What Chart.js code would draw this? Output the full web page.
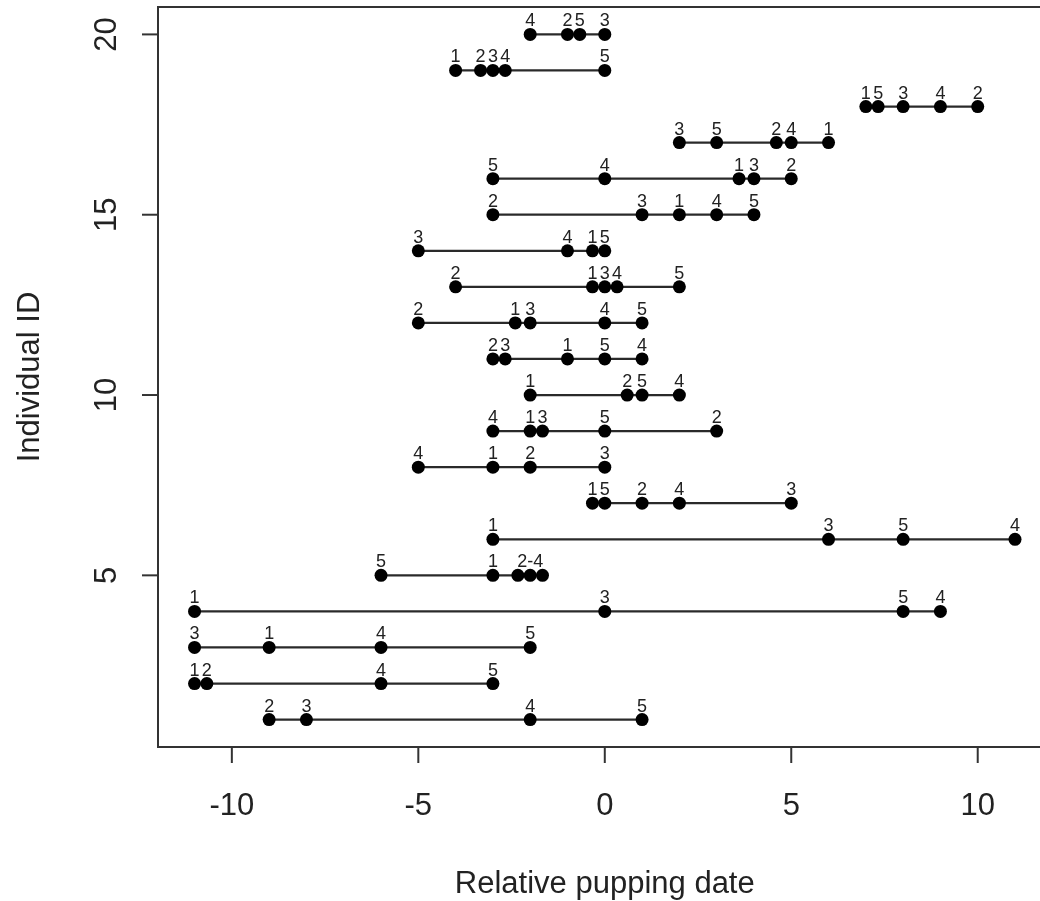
<!DOCTYPE html>
<html>
<head>
<meta charset="utf-8">
<script src="https://cdn.jsdelivr.net/npm/chart.js@4"></script>
<style>
  html, body { margin: 0; padding: 0; background: #fff; overflow: hidden; }
  canvas { display: block; }
</style>
</head>
<body>
<canvas id="pupChart" width="1040" height="901"></canvas>
<script>
/**************** Pupping dates per individual ****************/
// one row per individual, columns are pupa 1..5 (null = no record)
const individualIds = [1, 2, 3, 4, 5, 6, 7, 8, 9, 10, 11, 12, 13, 14, 15, 16, 17, 18, 19, 20];
const pupDates = [
  [null, -9, -8, -2, 1],
  [-11, -10.67, null, -6, -3],
  [-9, null, -11, -6, -2],
  [-11, null, 0, 9, 8],
  [-3, -2.33, -2, -1.67, -6],
  [-3, null, 6, 11, 8],
  [-0.33, 1, 5, 2, 0],
  [-3, -2, 0, -5, null],
  [-2, 3, -1.67, -3, 0],
  [-2, 0.6, null, 2, 1],
  [-1, -3, -2.67, 1, 0],
  [-2.4, -5, -2, 0, 1],
  [-0.33, -4, 0, 0.33, 2],
  [-0.33, null, -5, -1, 0],
  [2, -3, 1, 3, 4],
  [3.6, 5, 4, 0, -3],
  [6, 4.6, 2, 5, 3],
  [7, 10, 8, 9, 7.33],
  [-4, -3.33, -3, -2.67, 0],
  [null, -1, 0, -2, -0.67],
];
const pupOrder = ["1", "2", "3", "4", "5"];
// individual 5: pupae 2-4 share one label
const labelOverrides = { 5: ["1", "", "2-4", "", "5"] };

const xTicks = [-10, -5, 0, 5, 10];
const yTicks = [5, 10, 15, 20];

const xTitle = "Relative pupping date";
const yTitle = "Individual ID";

const inkColor = "#222";
const axisFont = "31px 'Liberation Sans', Arial, sans-serif";

const datasets = individualIds.map((id, i) => {
  const names = labelOverrides[id] || pupOrder;
  const pts = [];
  pupDates[i].forEach((d, k) => {
    if (d !== null) pts.push({ x: d, y: id, tag: names[k] });
  });
  pts.sort((a, b) => a.x - b.x);
  return {
    label: "ID " + id,
    data: pts,
    showLine: true,
    borderColor: "#2a2a2a",
    borderWidth: 2.2,
    pointRadius: 6.5,
    pointBackgroundColor: "#000",
    pointBorderWidth: 0,
    pointHoverRadius: 6.5,
  };
});

// order numbers above each point
const pointTags = {
  id: "pointTags",
  afterDatasetsDraw(chart) {
    const { ctx } = chart;
    ctx.save();
    ctx.font = "18px 'Liberation Sans', Arial, sans-serif";
    ctx.fillStyle = inkColor;
    ctx.textAlign = "center";
    ctx.textBaseline = "alphabetic";
    chart.data.datasets.forEach((ds, i) => {
      chart.getDatasetMeta(i).data.forEach((el, j) => {
        const tag = ds.data[j].tag;
        if (tag) ctx.fillText(tag, el.x, el.y - 8);
      });
    });
    ctx.restore();
  },
};

// box, ticks and titles drawn base-graphics style
const baseAxes = {
  id: "baseAxes",
  afterDraw(chart) {
    const { ctx, chartArea: a, scales } = chart;
    const w = chart.width;
    ctx.save();
    ctx.strokeStyle = "#333";
    ctx.lineWidth = 2;
    ctx.beginPath();
    ctx.moveTo(w, a.top);
    ctx.lineTo(a.left, a.top);
    ctx.lineTo(a.left, a.bottom);
    ctx.lineTo(w, a.bottom);
    ctx.stroke();

    ctx.fillStyle = inkColor;
    ctx.font = axisFont;

    // x axis
    ctx.textAlign = "center";
    ctx.textBaseline = "alphabetic";
    xTicks.forEach((v) => {
      const px = scales.x.getPixelForValue(v);
      ctx.beginPath();
      ctx.moveTo(px, a.bottom);
      ctx.lineTo(px, a.bottom + 16);
      ctx.stroke();
      ctx.fillText(String(v), px, 815);
    });
    ctx.fillText(xTitle, scales.x.getPixelForValue(0), 893);

    // y axis
    yTicks.forEach((v) => {
      const py = scales.y.getPixelForValue(v);
      ctx.beginPath();
      ctx.moveTo(a.left, py);
      ctx.lineTo(a.left - 16, py);
      ctx.stroke();
      ctx.save();
      ctx.translate(116, py);
      ctx.rotate(-Math.PI / 2);
      ctx.fillText(String(v), 0, 0);
      ctx.restore();
    });
    ctx.save();
    ctx.translate(39, (a.top + a.bottom) / 2);
    ctx.rotate(-Math.PI / 2);
    ctx.fillText(yTitle, 0, 0);
    ctx.restore();
    ctx.restore();
  },
};

new Chart(document.getElementById("pupChart"), {
  type: "scatter",
  data: { datasets: datasets },
  plugins: [pointTags, baseAxes],
  options: {
    responsive: false,
    animation: false,
    layout: {
      autoPadding: false,
      padding: { left: 158, top: 7, right: 0, bottom: 154 },
    },
    plugins: {
      legend: { display: false },
      tooltip: { enabled: false },
    },
    scales: {
      x: { type: "linear", min: -11.98, max: 11.67, display: false },
      y: { type: "linear", min: 0.24, max: 20.76, display: false },
    },
  },
});
</script>
</body>
</html>
